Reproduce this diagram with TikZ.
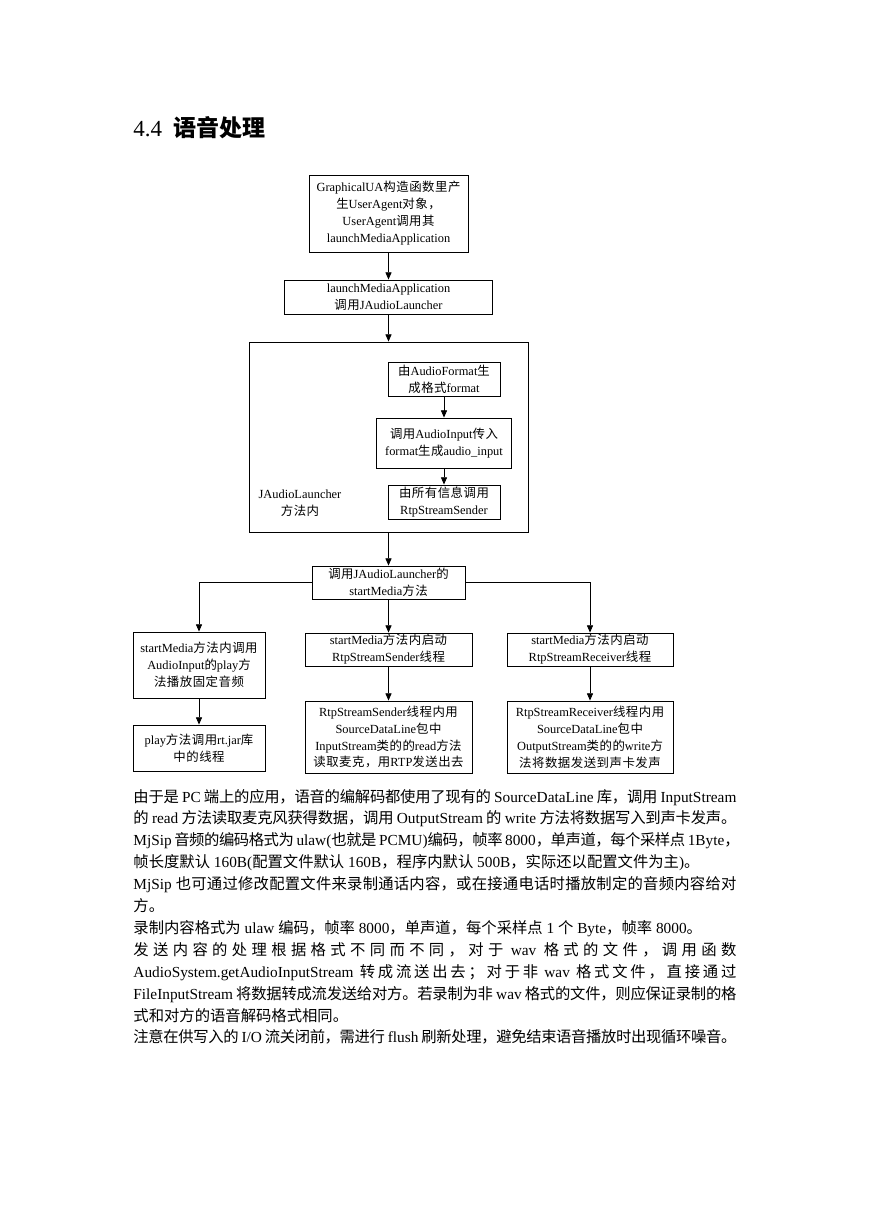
\documentclass[tikz,border=0pt]{standalone}
\usepackage{fontspec}
\setmainfont{Liberation Serif}
\newfontfamily\cjk{Noto Sans CJK SC}
\usetikzlibrary{arrows.meta}
% Chinese characters switch to the CJK font on their own
\newskip\cjkgap
\cjkgap=0pt plus 1.6pt minus 0.3pt
\XeTeXinterchartokenstate=1
\count255="4E00
\loop\XeTeXcharclass\count255=7 \advance\count255 1 \ifnum\count255<"A000 \repeat
\count255="3000
\loop\XeTeXcharclass\count255=7 \advance\count255 1 \ifnum\count255<"3040 \repeat
\count255="FF00
\loop\XeTeXcharclass\count255=7 \advance\count255 1 \ifnum\count255<"FFF0 \repeat
\XeTeXinterchartoks 0 7 = {\begingroup\cjk}
\XeTeXinterchartoks 4095 7 = {\begingroup\cjk}
\XeTeXinterchartoks 7 0 = {\endgroup}
\XeTeXinterchartoks 7 4095 = {\endgroup}
\XeTeXinterchartoks 7 7 = {\hskip\cjkgap\relax}
\newcommand\flowfont{\fontsize{8.5}{11.6}\selectfont\cjkgap=0.35pt\relax}
\newcommand\bodyfont{\fontsize{10.5}{15}\selectfont}
\newcommand\fline[1]{\hbox to 412.9pt{#1}}
\begin{document}
\begin{tikzpicture}[x=0.68475pt, y=-0.68475pt,
    box/.style={draw, line width=0.6pt, align=center, inner sep=0pt, font=\flowfont},
    >={Triangle[length=5pt,width=4.2pt]}, line width=0.6pt]
  \useasboundingbox (0,0) rectangle (869,1228);
  % heading
  \node[anchor=base west, inner sep=0pt, font=\fontsize{15.75}{18}\selectfont] (title) at (133,136)
    {4.4\hspace{7.5pt}{\bfseries 语音处理}};
  % main column
  \node[box, minimum width=108.9pt, minimum height=52.7pt] (ua) at (388.5,213.5)
    {GraphicalUA构造函数里产\\生UserAgent对象，\\UserAgent调用其\\launchMediaApplication};
  \node[box, minimum width=142.4pt, minimum height=23.3pt] (launch) at (388.5,297)
    {launchMediaApplication\\调用JAudioLauncher};
  \node[draw, minimum width=191pt, minimum height=130.1pt] (jal) at (388.5,437) {};
  \node[box, minimum width=76.7pt, minimum height=23.3pt] (fmt) at (444,379)
    {由AudioFormat生\\成格式format};
  \node[box, minimum width=92.4pt, minimum height=34.2pt] (ain) at (444,443)
    {调用AudioInput传入\\format生成audio\_input};
  \node[box, minimum width=76.7pt, minimum height=23.3pt] (snd) at (444,502)
    {由所有信息调用\\RtpStreamSender};
  \node[align=center, inner sep=0pt, font=\flowfont] (jallabel) at (300,503)
    {JAudioLauncher\\方法内};
  \node[box, minimum width=104.8pt, minimum height=22.6pt] (start) at (388.5,582.5)
    {调用JAudioLauncher的\\startMedia方法};
  % three branches
  \node[box, minimum width=90.4pt, minimum height=45.2pt] (play) at (199,665)
    {startMedia方法内调用\\AudioInput的play方\\法播放固定音频};
  \node[box, minimum width=90.4pt, minimum height=31.5pt] (rtjar) at (199,748)
    {play方法调用rt.jar库\\中的线程};
  \node[box, minimum width=114.4pt, minimum height=22.6pt] (sender) at (388.5,649.5)
    {startMedia方法内启动\\RtpStreamSender线程};
  \node[box, minimum width=114.4pt, minimum height=49.3pt] (mic) at (388.5,737)
    {RtpStreamSender线程内用\\SourceDataLine包中\\InputStream类的的read方法\\读取麦克，用RTP发送出去};
  \node[box, minimum width=113.7pt, minimum height=22.6pt] (receiver) at (590,649.5)
    {startMedia方法内启动\\RtpStreamReceiver线程};
  \node[box, minimum width=113.7pt, minimum height=49.3pt] (spk) at (590,737)
    {RtpStreamReceiver线程内用\\SourceDataLine包中\\OutputStream类的的write方\\法将数据发送到声卡发声};
  % connectors
  \draw[->] (ua) -- (launch);
  \draw[->] (launch) -- (jal);
  \draw[->] (fmt) -- (ain);
  \draw[->] (ain) -- (snd);
  \draw[->] (jal) -- (start);
  \draw[->] (start.west) -| (play.north);
  \draw[->] (start) -- (sender);
  \draw[->] (start.east) -| (receiver.north);
  \draw[->] (play) -- (rtjar);
  \draw[->] (sender) -- (mic);
  \draw[->] (receiver) -- (spk);
  % body text
  \begin{scope}[every node/.style={anchor=base west, inner sep=0pt, font=\bodyfont}]
    \node (t1) at (133,802) {\fline{由于是 PC 端上的应用，语音的编解码都使用了现有的 SourceDataLine 库，调用 InputStream}};
    \node (t2) at (133,823.9) {\fline{的 read 方法读取麦克风获得数据，调用 OutputStream 的 write 方法将数据写入到声卡发声。}};
    \node (t3) at (133,845.8) {\fline{MjSip 音频的编码格式为 ulaw(也就是 PCMU)编码，帧率 8000，单声道，每个采样点 1Byte，}};
    \node (t4) at (133,867.7) {帧长度默认 160B(配置文件默认 160B，程序内默认 500B，实际还以配置文件为主)。};
    \node (t5) at (133,889.6) {\fline{MjSip 也可通过修改配置文件来录制通话内容，或在接通电话时播放制定的音频内容给对}};
    \node (t6) at (133,911.5) {方。};
    \node (t7) at (133,933.4) {录制内容格式为 ulaw 编码，帧率 8000，单声道，每个采样点 1 个 Byte，帧率 8000。};
    \node (t8) at (133,955.3) {\fline{发送内容的处理根据格式不同而不同，对于 wav 格式的文件，调用函数}};
    \node (t9) at (133,977.2) {\fline{AudioSystem.getAudioInputStream 转成流送出去；对于非 wav 格式文件，直接通过}};
    \node (t10) at (133,999.1) {\fline{FileInputStream 将数据转成流发送给对方。若录制为非 wav 格式的文件，则应保证录制的格}};
    \node (t11) at (133,1021) {式和对方的语音解码格式相同。};
    \node (t12) at (133,1042.9) {\fline{注意在供写入的 I/O 流关闭前，需进行 flush 刷新处理，避免结束语音播放时出现循环噪音。}};
  \end{scope}
\end{tikzpicture}
\end{document}
